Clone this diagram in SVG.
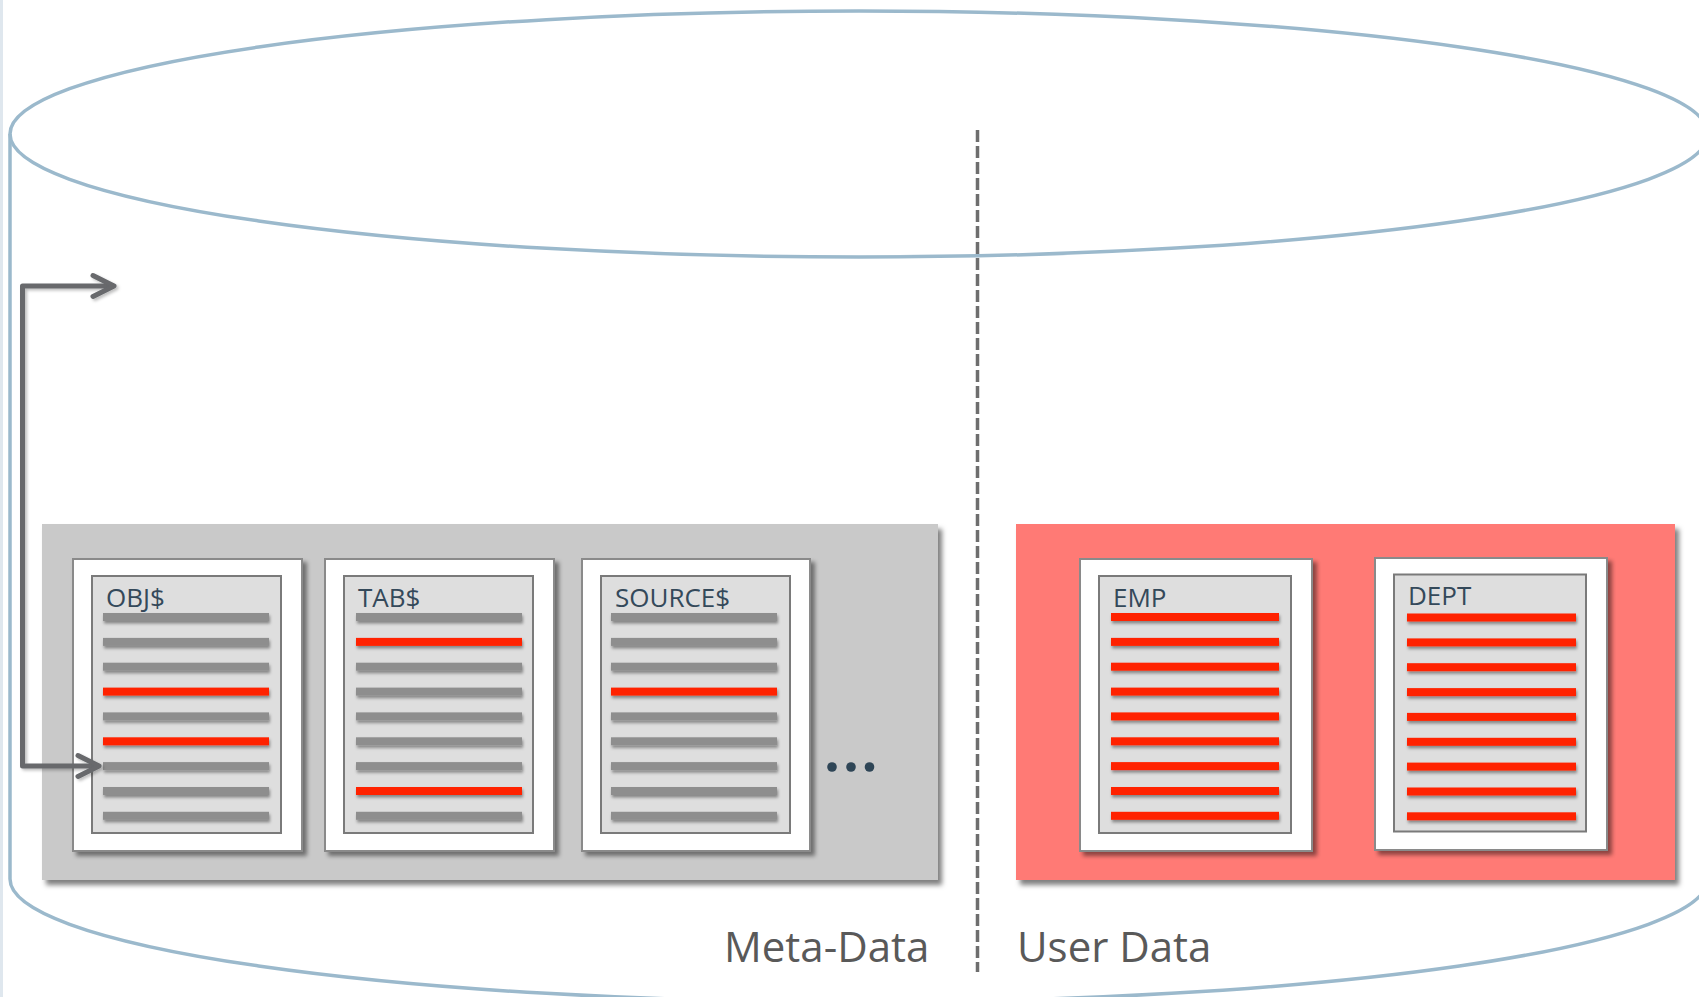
<svg xmlns="http://www.w3.org/2000/svg" width="1699" height="997" viewBox="0 0 1699 997">
  <defs>
    <style>
      .cyl { fill: none; stroke: #9bb9cc; stroke-width: 3.5; }
      .card { fill: #ffffff; stroke: #8a8a8a; stroke-width: 2; }
      .panel { fill: #dedede; stroke: #7a7a7a; stroke-width: 2; }
      .bg { fill: #8e8e8e; }
      .br { fill: #ff2400; }
      .title { font-family: "Open Sans", "Liberation Sans", sans-serif; font-size: 26px; fill: #34495a; }
      .label { font-family: "Open Sans", "Liberation Sans", sans-serif; font-size: 42px; fill: #595959; }
      .conn { fill: none; stroke: #67696c; stroke-width: 5; stroke-linejoin: round; }
    </style>
    <filter id="boxShadow" x="-5%" y="-5%" width="115%" height="115%">
      <feDropShadow dx="4" dy="5" stdDeviation="2.5" flood-color="#000" flood-opacity="0.5"/>
    </filter>
    <filter id="cardShadow" x="-10%" y="-10%" width="125%" height="125%">
      <feDropShadow dx="4" dy="4" stdDeviation="2" flood-color="#000" flood-opacity="0.45"/>
    </filter>
    <filter id="barShadow" x="-5%" y="-100%" width="110%" height="350%">
      <feDropShadow dx="1" dy="2.5" stdDeviation="1.5" flood-color="#000" flood-opacity="0.4"/>
    </filter>
    <filter id="lineShadow" x="-20%" y="-20%" width="140%" height="140%">
      <feDropShadow dx="2" dy="2" stdDeviation="1.5" flood-color="#000" flood-opacity="0.25"/>
    </filter>
    <marker id="chev" markerUnits="userSpaceOnUse" viewBox="-27 -15 30 30" markerWidth="30" markerHeight="30" refX="0" refY="0" orient="auto-start-reverse">
      <path d="M -21 -10.5 L 0 0 L -21 10.5" fill="none" stroke="#67696c" stroke-width="5" stroke-linecap="round" stroke-linejoin="round"/>
    </marker>
  </defs>

  <rect x="0" y="0" width="1699" height="997" fill="#ffffff"/>
  <rect x="0" y="0" width="3" height="997" fill="#dfe7ee"/>

  <g id="cylinder">
    <path class="cyl" d="M 10 134 L 10 879 A 849 123 0 0 0 1708 879 L 1708 134"/>
    <ellipse class="cyl" cx="859" cy="134" rx="849" ry="123"/>
  </g>

  <g id="divider">
    <line x1="977.5" y1="130" x2="977.5" y2="972" stroke="#6e6e6e" stroke-width="3.5" stroke-dasharray="12 4"/>
  </g>

  <g id="metadata-box">
    <rect x="42" y="524" width="896" height="356" fill="#c9c9c9" filter="url(#boxShadow)"/>
  </g>

  <g id="userdata-box">
    <rect x="1016" y="524" width="659" height="356" fill="#ff7a75" filter="url(#boxShadow)"/>
  </g>

  <g id="doc-obj">
    <rect class="card" x="73" y="559" width="229" height="292" filter="url(#cardShadow)"/>
    <rect class="panel" x="92" y="576" width="189" height="257"/>
    <text class="title" x="106" y="607">OBJ$</text>
    <g filter="url(#barShadow)">
      <rect class="bg" x="103" y="613" width="166" height="8"/>
      <rect class="bg" x="103" y="637.9" width="166" height="8"/>
      <rect class="bg" x="103" y="662.7" width="166" height="8"/>
      <rect class="br" x="103" y="687.6" width="166" height="8"/>
      <rect class="bg" x="103" y="712.4" width="166" height="8"/>
      <rect class="br" x="103" y="737.3" width="166" height="8"/>
      <rect class="bg" x="103" y="762.1" width="166" height="8"/>
      <rect class="bg" x="103" y="787" width="166" height="8"/>
      <rect class="bg" x="103" y="811.8" width="166" height="8"/>
    </g>
  </g>

  <g id="doc-tab">
    <rect class="card" x="325" y="559" width="229" height="292" filter="url(#cardShadow)"/>
    <rect class="panel" x="344" y="576" width="189" height="257"/>
    <text class="title" x="358" y="607">TAB$</text>
    <g filter="url(#barShadow)">
      <rect class="bg" x="356" y="613" width="166" height="8"/>
      <rect class="br" x="356" y="637.9" width="166" height="8"/>
      <rect class="bg" x="356" y="662.7" width="166" height="8"/>
      <rect class="bg" x="356" y="687.6" width="166" height="8"/>
      <rect class="bg" x="356" y="712.4" width="166" height="8"/>
      <rect class="bg" x="356" y="737.3" width="166" height="8"/>
      <rect class="bg" x="356" y="762.1" width="166" height="8"/>
      <rect class="br" x="356" y="787" width="166" height="8"/>
      <rect class="bg" x="356" y="811.8" width="166" height="8"/>
    </g>
  </g>

  <g id="doc-source">
    <rect class="card" x="582" y="559" width="228" height="292" filter="url(#cardShadow)"/>
    <rect class="panel" x="601" y="576" width="189" height="257"/>
    <text class="title" x="615" y="607">SOURCE$</text>
    <g filter="url(#barShadow)">
      <rect class="bg" x="611" y="613" width="166" height="8"/>
      <rect class="bg" x="611" y="637.9" width="166" height="8"/>
      <rect class="bg" x="611" y="662.7" width="166" height="8"/>
      <rect class="br" x="611" y="687.6" width="166" height="8"/>
      <rect class="bg" x="611" y="712.4" width="166" height="8"/>
      <rect class="bg" x="611" y="737.3" width="166" height="8"/>
      <rect class="bg" x="611" y="762.1" width="166" height="8"/>
      <rect class="bg" x="611" y="787" width="166" height="8"/>
      <rect class="bg" x="611" y="811.8" width="166" height="8"/>
    </g>
  </g>

  <g id="ellipsis" fill="#2e4556">
    <circle cx="832" cy="767" r="4.8"/>
    <circle cx="851" cy="767" r="4.8"/>
    <circle cx="869.5" cy="767" r="4.8"/>
  </g>

  <g id="doc-emp">
    <rect class="card" x="1080" y="559" width="232" height="292" filter="url(#cardShadow)"/>
    <rect class="panel" x="1099" y="576" width="192" height="257"/>
    <text class="title" x="1113" y="607">EMP</text>
    <g filter="url(#barShadow)">
      <rect class="br" x="1111" y="613" width="168" height="8"/>
      <rect class="br" x="1111" y="637.9" width="168" height="8"/>
      <rect class="br" x="1111" y="662.7" width="168" height="8"/>
      <rect class="br" x="1111" y="687.6" width="168" height="8"/>
      <rect class="br" x="1111" y="712.4" width="168" height="8"/>
      <rect class="br" x="1111" y="737.3" width="168" height="8"/>
      <rect class="br" x="1111" y="762.1" width="168" height="8"/>
      <rect class="br" x="1111" y="787" width="168" height="8"/>
      <rect class="br" x="1111" y="811.8" width="168" height="8"/>
    </g>
  </g>

  <g id="doc-dept">
    <rect class="card" x="1375" y="558" width="232" height="292" filter="url(#cardShadow)"/>
    <rect class="panel" x="1394" y="574.5" width="192" height="257"/>
    <text class="title" x="1408" y="605">DEPT</text>
    <g filter="url(#barShadow)">
      <rect class="br" x="1407" y="613.5" width="169" height="8"/>
      <rect class="br" x="1407" y="638.4" width="169" height="8"/>
      <rect class="br" x="1407" y="663.2" width="169" height="8"/>
      <rect class="br" x="1407" y="688.1" width="169" height="8"/>
      <rect class="br" x="1407" y="712.9" width="169" height="8"/>
      <rect class="br" x="1407" y="737.8" width="169" height="8"/>
      <rect class="br" x="1407" y="762.6" width="169" height="8"/>
      <rect class="br" x="1407" y="787.5" width="169" height="8"/>
      <rect class="br" x="1407" y="812.3" width="169" height="8"/>
    </g>
  </g>

  <g id="labels">
    <text class="label" x="724" y="962">Meta-Data</text>
    <text class="label" x="1017" y="962">User Data</text>
  </g>

  <g id="connectors">
    <path class="conn" d="M 114 286 L 22.5 286 L 22.5 766 L 99 766" marker-start="url(#chev)" marker-end="url(#chev)" filter="url(#lineShadow)"/>
  </g>
</svg>
